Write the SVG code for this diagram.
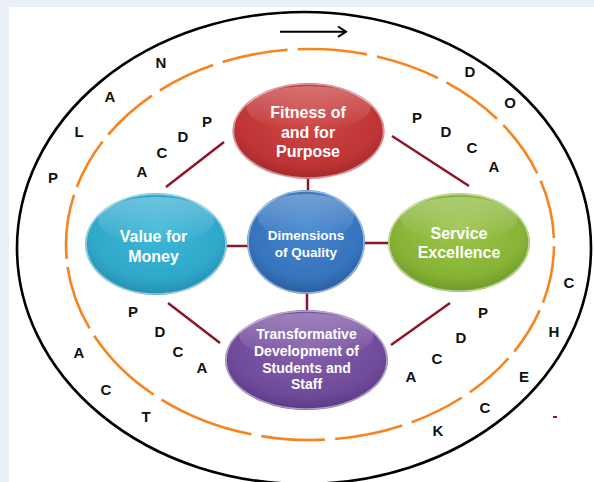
<svg xmlns="http://www.w3.org/2000/svg" width="594" height="482" viewBox="0 0 594 482">
<defs>
<style>
.ltr{font-family:"Liberation Sans",Arial,sans-serif;font-weight:bold;font-size:15px;fill:#111;text-anchor:middle}
.nt{font-family:"Liberation Sans",Arial,sans-serif;font-weight:bold;fill:#fff;text-anchor:middle}
.con{stroke:#8c1628;stroke-width:2.5;fill:none}
.rim{fill:none;stroke:#fff;stroke-opacity:.5;stroke-width:1.6}
.shine{fill:url(#shine)}
.dash{fill:none;stroke:#f7851f;stroke-width:2.6}
</style>
<radialGradient id="gRed" cx="50%" cy="38%" r="62%"><stop offset="0" stop-color="#cf4745"/><stop offset=".75" stop-color="#bf3536"/><stop offset="1" stop-color="#a3282b"/></radialGradient>
<radialGradient id="gCyan" cx="50%" cy="38%" r="62%"><stop offset="0" stop-color="#3fb8d8"/><stop offset=".75" stop-color="#2fa7c9"/><stop offset="1" stop-color="#248fb0"/></radialGradient>
<radialGradient id="gBlue" cx="50%" cy="38%" r="62%"><stop offset="0" stop-color="#4487cf"/><stop offset=".75" stop-color="#3674bd"/><stop offset="1" stop-color="#2a5e9f"/></radialGradient>
<radialGradient id="gGreen" cx="50%" cy="38%" r="62%"><stop offset="0" stop-color="#9cc64a"/><stop offset=".75" stop-color="#86b236"/><stop offset="1" stop-color="#6d9a27"/></radialGradient>
<radialGradient id="gPurple" cx="50%" cy="38%" r="62%"><stop offset="0" stop-color="#8460ab"/><stop offset=".75" stop-color="#714b9b"/><stop offset="1" stop-color="#5a3a84"/></radialGradient>
<linearGradient id="shine" x1="0" y1="0" x2="0" y2="1"><stop offset="0" stop-color="#fff" stop-opacity=".28"/><stop offset="1" stop-color="#fff" stop-opacity="0"/></linearGradient>
<marker id="arr" markerWidth="12" markerHeight="12" refX="9" refY="6" orient="auto" markerUnits="userSpaceOnUse"><polyline points="1,0.8 9,6 1,11.2" fill="none" stroke="#000" stroke-width="2"/></marker>
</defs>
<rect x="0" y="0" width="594" height="482" fill="#eaf0f8"/>
<rect x="9" y="7" width="585" height="475" fill="#fff"/>
<g id="rings">
<ellipse cx="304" cy="248" rx="287" ry="236" fill="none" stroke="#000" stroke-width="2.6"/>
<path class="dash" d="M539.7,310.4 A244,195.5 0 0 1 514.2,351.6 M508.4,358.3 A244,195.5 0 0 1 469.7,392.3 M461.9,397.5 A244,195.5 0 0 1 411.6,422.3 M402.2,425.5 A244,195.5 0 0 1 335.1,439.0 M324.9,439.6 A244,195.5 0 0 1 261.3,436.1 M251.4,434.3 A244,195.5 0 0 1 161.5,399.6 M153.5,394.5 A244,195.5 0 0 1 94.2,335.7 M89.6,328.4 A244,195.5 0 0 1 67.6,267.0 M66.7,258.8 A244,195.5 0 0 1 74.0,194.9 M76.8,187.0 A244,195.5 0 0 1 102.6,141.5 M108.2,134.6 A244,195.5 0 0 1 151.9,95.6 M159.8,90.4 A244,195.5 0 0 1 213.1,65.1 M222.6,62.0 A244,195.5 0 0 1 287.5,49.8 M297.7,49.3 A244,195.5 0 0 1 366.9,54.4 M376.9,56.5 A244,195.5 0 0 1 437.9,78.0 M446.4,82.4 A244,195.5 0 0 1 496.9,118.8 M503.3,125.2 A244,195.5 0 0 1 537.2,173.2 M540.7,180.8 A244,195.5 0 0 1 553.9,238.0 M554.0,246.2 A244,195.5 0 0 1 543.0,302.6"/>
<line x1="280" y1="31.7" x2="346" y2="31.7" stroke="#000" stroke-width="2" marker-end="url(#arr)"/>
<rect x="553" y="416" width="4" height="2" fill="#8c1628"/>
</g>
<g id="connectors">
<line class="con" x1="308" y1="178" x2="308" y2="192"/>
<line class="con" x1="307" y1="292" x2="307" y2="311"/>
<line class="con" x1="226" y1="246" x2="248" y2="246"/>
<line class="con" x1="364" y1="243" x2="390" y2="243"/>
<line class="con" x1="166" y1="187" x2="224" y2="142"/>
<line class="con" x1="392" y1="136" x2="469" y2="186"/>
<line class="con" x1="168" y1="303" x2="220" y2="343"/>
<line class="con" x1="391" y1="345" x2="450" y2="303"/>
</g>
<g id="fitness">
<ellipse cx="308.5" cy="131" rx="76" ry="48" fill="url(#gRed)"/>
<ellipse cx="308.5" cy="108" rx="62" ry="22" class="shine"/>
<ellipse cx="308.5" cy="131" rx="75" ry="47" class="rim"/>
<text class="nt" font-size="16"><tspan x="308" y="118">Fitness of</tspan><tspan x="308" y="137.5">and for</tspan><tspan x="308" y="157">Purpose</tspan></text>
</g>
<g id="value">
<ellipse cx="156" cy="244" rx="71" ry="51" fill="url(#gCyan)"/>
<ellipse cx="156" cy="220" rx="58" ry="23" class="shine"/>
<ellipse cx="156" cy="244" rx="70" ry="50" class="rim"/>
<text class="nt" font-size="16"><tspan x="153.5" y="241.5">Value for</tspan><tspan x="153.5" y="261.5">Money</tspan></text>
</g>
<g id="dimensions">
<ellipse cx="306" cy="242" rx="59" ry="52" fill="url(#gBlue)"/>
<ellipse cx="306" cy="217" rx="48" ry="23" class="shine"/>
<ellipse cx="306" cy="242" rx="58" ry="51" class="rim"/>
<text class="nt" font-size="13.5"><tspan x="306" y="240">Dimensions</tspan><tspan x="306" y="257">of Quality</tspan></text>
</g>
<g id="service">
<ellipse cx="459" cy="242.5" rx="71" ry="49.5" fill="url(#gGreen)"/>
<ellipse cx="459" cy="219" rx="58" ry="22" class="shine"/>
<ellipse cx="459" cy="242.5" rx="70" ry="48.5" class="rim"/>
<text class="nt" font-size="16"><tspan x="459" y="238.5">Service</tspan><tspan x="459" y="258">Excellence</tspan></text>
</g>
<g id="transformative">
<ellipse cx="306.5" cy="360" rx="81.5" ry="50" fill="url(#gPurple)"/>
<ellipse cx="306.5" cy="336" rx="67" ry="23" class="shine"/>
<ellipse cx="306.5" cy="360" rx="80.5" ry="49" class="rim"/>
<text class="nt" font-size="14"><tspan x="306.5" y="339.3">Transformative</tspan><tspan x="306.5" y="356">Development of</tspan><tspan x="306.5" y="372.7">Students and</tspan><tspan x="306.5" y="389.3">Staff</tspan></text>
</g>
<g id="letters">
<text class="ltr" x="53" y="183.4">P</text>
<text class="ltr" x="79" y="137.4">L</text>
<text class="ltr" x="110" y="102.4">A</text>
<text class="ltr" x="161" y="68.4">N</text>
<text class="ltr" x="470" y="77.4">D</text>
<text class="ltr" x="510" y="108.4">O</text>
<text class="ltr" x="569" y="288.4">C</text>
<text class="ltr" x="554" y="337.4">H</text>
<text class="ltr" x="524" y="382.4">E</text>
<text class="ltr" x="485" y="413.4">C</text>
<text class="ltr" x="438" y="436.4">K</text>
<text class="ltr" x="79" y="358.4">A</text>
<text class="ltr" x="106" y="395.4">C</text>
<text class="ltr" x="146" y="422.4">T</text>
<text class="ltr" x="207" y="127.4">P</text>
<text class="ltr" x="183" y="142.4">D</text>
<text class="ltr" x="162" y="158.4">C</text>
<text class="ltr" x="142" y="177.4">A</text>
<text class="ltr" x="417" y="123.4">P</text>
<text class="ltr" x="446" y="137.4">D</text>
<text class="ltr" x="472" y="153.4">C</text>
<text class="ltr" x="494" y="172.4">A</text>
<text class="ltr" x="133" y="317.4">P</text>
<text class="ltr" x="160" y="337.4">D</text>
<text class="ltr" x="178" y="357.4">C</text>
<text class="ltr" x="202" y="373.4">A</text>
<text class="ltr" x="483" y="318.4">P</text>
<text class="ltr" x="461" y="343.4">D</text>
<text class="ltr" x="437" y="364.4">C</text>
<text class="ltr" x="411" y="382.4">A</text>
</g>
</svg>
